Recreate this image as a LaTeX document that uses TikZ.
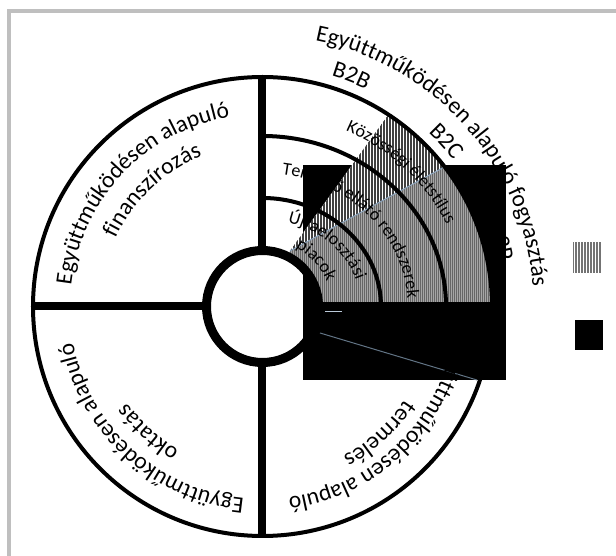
\documentclass[tikz,border=0pt]{standalone}
\usepackage{fontspec}
\setmainfont{Carlito}
\usetikzlibrary{decorations.text,patterns}
\definecolor{framegray}{RGB}{191,191,191}
\definecolor{seamblue}{RGB}{140,165,190}
\pgfdeclarepatternformonly{vstripe}{\pgfpoint{-1pt}{-1pt}}{\pgfpoint{4pt}{4pt}}{\pgfpoint{3pt}{3pt}}{%
  \pgfsetlinewidth{1.1pt}\pgfpathmoveto{\pgfpoint{0pt}{-1pt}}\pgfpathlineto{\pgfpoint{0pt}{4pt}}\pgfusepath{stroke}}
\pgfdeclarepatternformonly{vstripefine}{\pgfpoint{-1pt}{-1pt}}{\pgfpoint{3pt}{3pt}}{\pgfpoint{2pt}{2pt}}{%
  \pgfsetlinewidth{0.9pt}\pgfpathmoveto{\pgfpoint{0pt}{-1pt}}\pgfpathlineto{\pgfpoint{0pt}{3pt}}\pgfusepath{stroke}}
\newcommand\lblbig{\fontsize{23.5}{23.5}\selectfont}
\newcommand\lblsmall{\fontsize{18}{18}\selectfont}
% #1 x radius, #2 y radius, #3 centre angle, #4 half span, #5 text (clockwise, tops outward)
\newcommand\arclabel[5]{%
  \path[decorate,decoration={text along path,text align=center,text={#5}}]
    ({#1*cos(#3+#4)},{#2*sin(#3+#4)}) arc[start angle=#3+#4, end angle=#3-#4, x radius=#1pt, y radius=#2pt];}
\tikzset{
  ring/.style={line width=4pt},
  spoke/.style={line width=8pt},
  hub/.style={line width=9pt},
  lighthatch/.style={preaction={fill=white},pattern=vstripe,pattern color=black!75},
  darkhatch/.style={preaction={fill=black!35},pattern=vstripefine,pattern color=black!60},
  seam/.style={seamblue,line width=1pt}
}
\begin{document}
\begin{tikzpicture}[x=1pt,y=1pt]
\useasboundingbox (-262.5,-249.5) rectangle (353.5,306.5);
\fill[white] (-262.5,-249.5) rectangle (353.5,306.5);
% frame
\draw[framegray,line width=3.8pt] (-253.7,-249.5) -- (-253.7,295.7) -- (353.5,295.7);
% black block
\fill[black] (40.5,141.5) rectangle (243.5,-73.5);
% hatched wedges
\coordinate (apex) at (27.5,55.5);
\fill[lighthatch] (apex) -- (56.7:229.5) arc[start angle=56.7,end angle=0,radius=229.5pt]
   -- (0:60) arc[start angle=0,end angle=63.6,radius=60pt] -- cycle;
\fill[darkhatch] (apex) -- (37.5:229.5) arc[start angle=37.5,end angle=0,radius=229.5pt]
   -- (0:60) arc[start angle=0,end angle=63.6,radius=60pt] -- cycle;
\coordinate (seamend) at (37.5:229.5);
\draw[seam] (apex) -- (seamend);
\coordinate (s2a) at (57.5,-26.5);
\coordinate (s2b) at (214.5,-73.5);
\draw[seam,seamblue!70!black] (s2a) -- (s2b);
\coordinate (s3a) at (62.5,-5.5);
\coordinate (s3b) at (79.5,-5.5);
\draw[seam,seamblue!60] (s3a) -- (s3b);
% rings
\draw[ring] (0,0) circle[radius=229.5pt];
\draw[ring] (0,108.5) arc[start angle=90,end angle=0,x radius=118.5pt,y radius=108.5pt];
\draw[ring] (0,170.5) arc[start angle=90,end angle=0,x radius=183.5pt,y radius=170.5pt];
% spokes
\draw[spoke] (0,56) -- (0,229.5);
\draw[spoke] (0,-56) -- (0,-229.5);
\draw[spoke] (-56,0) -- (-229.5,0);
\draw[spoke] (56,0) -- (229.5,0);
\draw[hub] (0,0) circle[radius=56pt];
% outer labels
\arclabel{271}{271}{41.5}{55}{|\lblbig|Együttműködésen alapuló fogyasztás}
\arclabel{240.5}{240.5}{68.9}{16}{|\lblbig|B2B}
\arclabel{240.5}{240.5}{42}{16}{|\lblbig|B2C}
\arclabel{240.5}{240.5}{15.1}{16}{|\lblbig|B2P}
% inner labels (upper right)
\arclabel{203}{193}{45}{40}{|\lblsmall|Közösségi életstílus}
\arclabel{145}{133}{42.4}{50}{|\lblsmall|Termelő ellátó rendszerek}
\arclabel{98}{87}{45.4}{45}{|\lblsmall|Újraelosztási}
\arclabel{69}{67}{41.2}{35}{|\lblsmall|piacok}
% quadrant labels
\arclabel{192.4}{192.4}{136.7}{50}{|\lblbig|Együttműködésen alapuló}
\arclabel{162}{162}{133.5}{40}{|\lblbig|finanszírozás}
\arclabel{193}{193}{227.7}{50}{|\lblbig|Együttműködésen alapuló}
\arclabel{166}{166}{227.7}{40}{|\lblbig|oktatás}
\arclabel{193}{193}{-45.5}{50}{|\lblbig|Együttműködésen alapuló}
\arclabel{170}{170}{-47.5}{40}{|\lblbig|termelés}
% legend
\fill[preaction={fill=white},pattern=vstripe,pattern color=black!55] (310.5,63.5) rectangle (339.5,33.5);
\fill[black] (312.5,-13.5) rectangle (340.5,-43.5);
\end{tikzpicture}
\end{document}
